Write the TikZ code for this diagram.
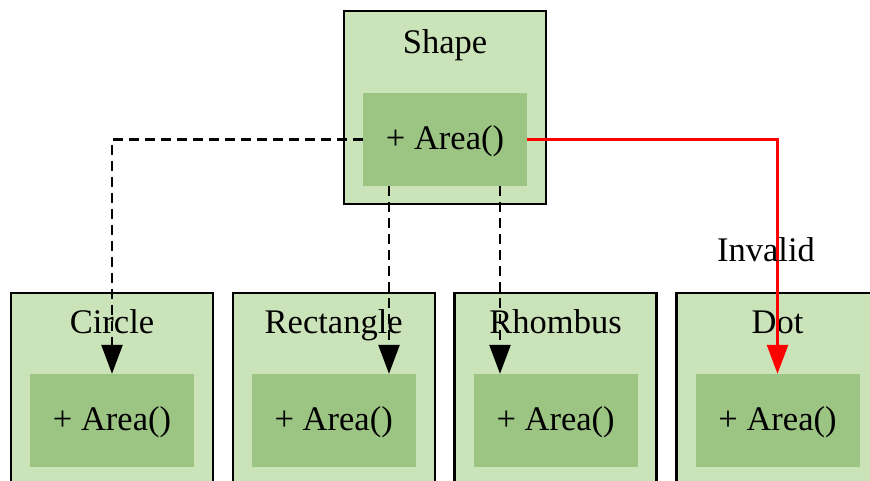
\documentclass[tikz,border=0pt]{standalone}
\usepackage{fontspec}
\setmainfont{Liberation Serif}
\usetikzlibrary{arrows.meta}
\definecolor{outerg}{HTML}{CBE3B8}
\definecolor{innerg}{HTML}{9CC482}
\begin{document}
\begin{tikzpicture}[x=1pt,y=-1pt,
  outerbox/.style={draw=black,line width=2.4pt,fill=outerg,minimum width=202pt,minimum height=193pt,inner sep=0pt},
  innerbox/.style={fill=innerg,minimum width=164pt,minimum height=93pt,inner sep=0pt},
  lbl/.style={anchor=base,inner sep=0pt,font=\fontsize{34.5}{40}\selectfont},
  inherit/.style={line width=2.6pt,dash pattern=on 10pt off 6pt,-{Triangle[length=29pt,width=21pt]}},
  invalid/.style={line width=2.6pt,draw=red,-{Triangle[length=29pt,width=21pt]},red}]
\useasboundingbox (0,0) rectangle (870,480);
\clip (0,0) rectangle (870,480);
% top
\node[outerbox] (s) at (445,107.5) {};
\node[innerbox] (sa) at (445,139.5) {};
\node[lbl] (st) at (445,53) {Shape};
\node[lbl] (sat) at (445,149) {+ Area()};
% bottom
\foreach \n/\x/\t in {c/112/Circle, r/333.7/Rectangle, h/555.6/Rhombus, d/777.5/Dot}{
  \node[outerbox] (\n) at (\x,389.5) {};
  \node[innerbox] (\n a) at (\x,420.5) {};
  \node[lbl] (\n t) at (\x,333) {\t};
  \node[lbl] (\n at) at (\x,430) {+ Area()};
}
% edges
\draw[inherit] (sa.west) -| (ca.north);
\draw[inherit] ([xshift=-56pt]sa.south) -- ([xshift=-56pt]sa.south |- ra.north);
\draw[inherit] ([xshift=55pt]sa.south) -- ([xshift=55pt]sa.south |- ha.north);
\draw[invalid] (sa.east) -| (da.north);
\node[lbl] (inv) at (766,261) {Invalid};
\end{tikzpicture}
\end{document}
